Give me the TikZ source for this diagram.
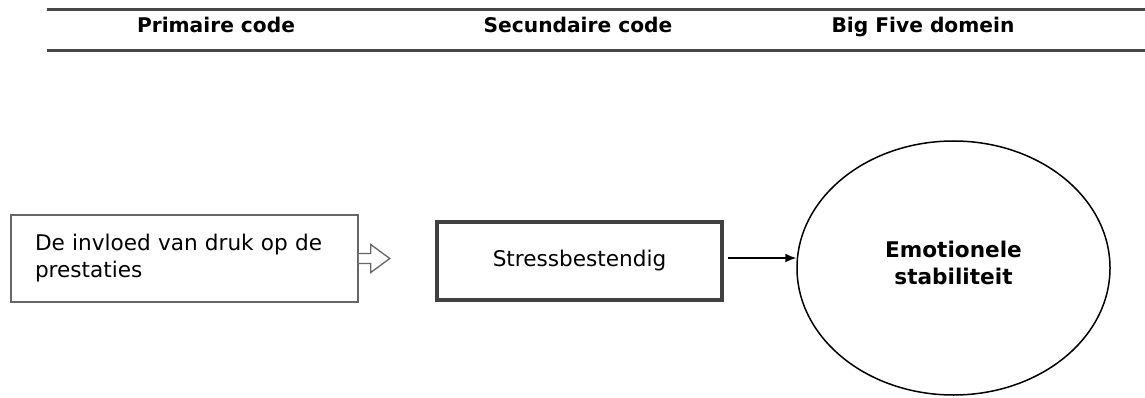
\documentclass[tikz,border=0pt]{standalone}
\usepackage{fontspec}
\setmainfont{DejaVu Sans}
\usetikzlibrary{arrows.meta,shapes.geometric}

\begin{document}
\begin{tikzpicture}[x=1pt,y=-1pt,
  rule/.style={line width=3pt,draw=black!72},
  hdr/.style={anchor=base,font=\bfseries\fontsize{20.2}{24}\selectfont},
  codebox/.style={draw=black!60,line width=1.5pt,rectangle,
    font=\fontsize{21.6}{27}\selectfont},
  hollow/.style={draw=black!60,line width=1.3pt,fill=white},
  link/.style={-{Latex[length=11pt,width=9pt]},line width=1.5pt}]
\useasboundingbox (0,0) rectangle (1145,398);
\draw[rule] (47,10) -- (1145,10);
\draw[rule] (47,51) -- (1145,51);
\node[hdr] (hprim) at (216,33) {Primaire code};
\node[hdr] (hsec) at (578,33) {Secundaire code};
\node[hdr] (hbig) at (923,33) {Big Five domein};
\node[codebox,minimum width=347pt,minimum height=87pt,text width=299pt,
  inner xsep=24pt,align=left] (prim) at (184.5,258.5)
  {De invloed van druk op de\\prestaties};
\node[codebox,line width=3.2pt,draw=black!75,minimum width=285pt,
  minimum height=78pt] (sec) at (579.5,261) {Stressbestendig};
\node[ellipse,draw,line width=1.5pt,minimum width=313pt,minimum height=254pt,
  align=center,text depth=10pt,font=\bfseries\fontsize{21.6}{27}\selectfont]
  (dom) at (953.5,268) {Emotionele\\stabiliteit};
\draw[hollow] ([yshift=5pt]prim.east) -- ++(12,0) -- ++(0,-9) -- ++(19,14)
  -- ++(-19,14) -- ++(0,-9) -- ++(-12,0);
\draw[link,shorten <=4pt] ([yshift=3pt]sec.east) -- ([yshift=3pt]sec.east -| dom.west);
\end{tikzpicture}
\end{document}
